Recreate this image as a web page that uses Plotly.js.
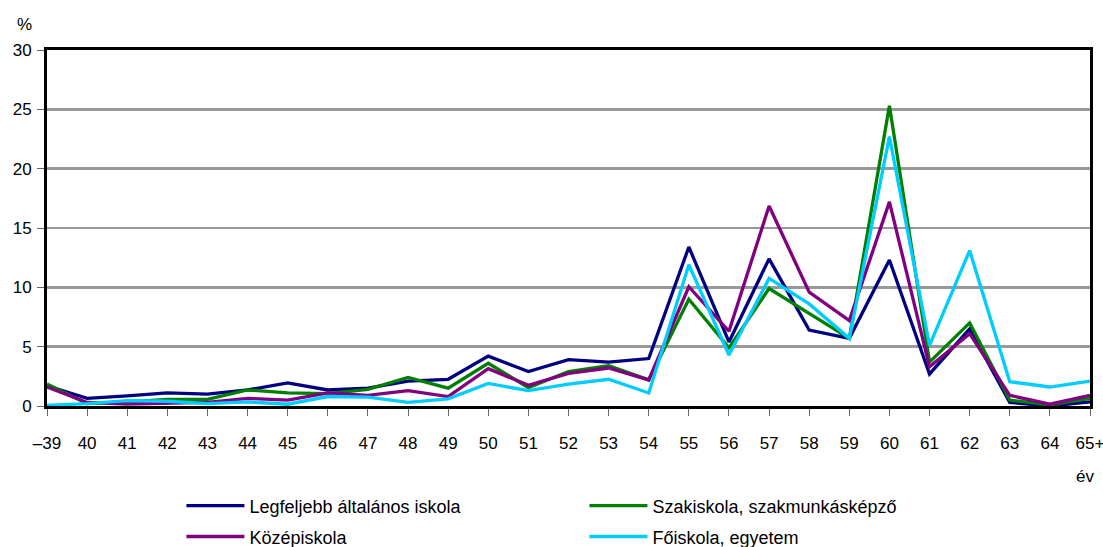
<!DOCTYPE html>
<html>
<head>
<meta charset="utf-8">
<script src="https://cdn.plot.ly/plotly-3.0.1.min.js"></script>
<style>
html,body{margin:0;padding:0;background:#fff;}
#chart{width:1103px;height:547px;}
</style>
</head>
<body>
<div id="chart"></div>
<script>
const categories = ['–39','40','41','42','43','44','45','46','47','48','49','50','51','52','53','54','55','56','57','58','59','60','61','62','63','64','65+'];
const legfeljebb = [1.7,0.65,0.85,1.1,1.0,1.35,1.95,1.35,1.5,2.1,2.25,4.2,2.9,3.9,3.7,4.0,13.4,5.4,12.4,6.4,5.7,12.3,2.7,6.5,0.3,0.0,0.35];
const szakiskola = [1.85,0.2,0.35,0.55,0.55,1.35,1.1,1.05,1.4,2.4,1.5,3.6,1.55,2.9,3.4,2.2,9.0,4.9,9.9,7.8,5.7,25.3,3.7,7.0,0.5,0.1,0.65];
const kozepiskola = [1.6,0.3,0.15,0.2,0.3,0.65,0.5,1.1,0.9,1.3,0.8,3.15,1.75,2.75,3.2,2.2,10.05,6.3,16.85,9.6,7.2,17.2,3.3,6.1,0.9,0.15,0.9];
const foiskola = [0.05,0.2,0.45,0.4,0.2,0.35,0.15,0.8,0.75,0.3,0.6,1.9,1.3,1.85,2.25,1.1,11.9,4.3,10.75,8.6,5.7,22.7,5.1,13.1,2.05,1.6,2.1];
const seriesNames = ['Legfeljebb általános iskola','Szakiskola, szakmunkásképző','Középiskola','Főiskola, egyetem'];
const yTicks = [0,5,10,15,20,25,30];

const W = 1103, H = 547;
const M = {l:46.5, r:13, t:49.5, b:141};
const pw = W - M.l - M.r, ph = H - M.t - M.b;
const px = x => (x - M.l) / pw;
const py = y => (H - M.b - y) / ph;

const FONT = '"Liberation Sans", Arial, sans-serif';
const colors = ['#000080','#008000','#800080','#00CCFF'];
const legendIds = ['legend','legend','legend2','legend2'];
const data = [legfeljebb, szakiskola, kozepiskola, foiskola].map((v,i) => ({
  type:'scatter', mode:'lines', x:categories, y:v, name:seriesNames[i],
  line:{color:colors[i], width:3.3},
  legend: legendIds[i],
  hoverinfo:'skip'
}));

const legendCommon = {
  orientation:'h', xanchor:'left', yanchor:'middle',
  font:{family:FONT, size:18, color:'#000'},
  bgcolor:'rgba(0,0,0,0)', itemwidth:58, entrywidth:330, entrywidthmode:'pixels',
  traceorder:'normal', itemclick:false, itemdoubleclick:false
};

const layout = {
  width:W, height:H,
  margin:{l:M.l, r:M.r, t:M.t, b:M.b, pad:0, autoexpand:false},
  paper_bgcolor:'#fff', plot_bgcolor:'#fff',
  font:{family:FONT, size:17, color:'#000'},
  showlegend:true,
  legend:Object.assign({}, legendCommon, {x:px(181), y:py(506)}),
  legend2:Object.assign({}, legendCommon, {x:px(181), y:py(537)}),
  xaxis:{
    type:'category', range:[0, categories.length-1],
    showgrid:false, zeroline:false, automargin:false,
    showline:true, linecolor:'#000', linewidth:3, mirror:true,
    ticks:'outside', ticklen:7, tickwidth:1, tickcolor:'#666',
    tickfont:{family:FONT, size:17, color:'#000'},
    ticklabelstandoff:13, fixedrange:true
  },
  yaxis:{
    range:[0,30], tickvals:yTicks, ticktext:yTicks.map(String),
    showgrid:true, gridcolor:'#999', gridwidth:2.5,
    zeroline:false, automargin:false,
    showline:true, linecolor:'#000', linewidth:3, mirror:true,
    ticks:'outside', ticklen:7, tickwidth:1, tickcolor:'#666',
    tickfont:{family:FONT, size:17, color:'#000'},
    ticklabelstandoff:2, fixedrange:true
  },
  annotations:[
    {text:'%', xref:'paper', yref:'paper', x:px(24), y:py(24), xanchor:'center', yanchor:'middle', showarrow:false, font:{family:FONT, size:17, color:'#000'}},
    {text:'év', xref:'paper', yref:'paper', x:px(1085), y:py(477), xanchor:'center', yanchor:'middle', showarrow:false, font:{family:FONT, size:17, color:'#000'}}
  ]
};

Plotly.newPlot('chart', data, layout, {displayModeBar:false, staticPlot:true});
</script>
</body>
</html>
